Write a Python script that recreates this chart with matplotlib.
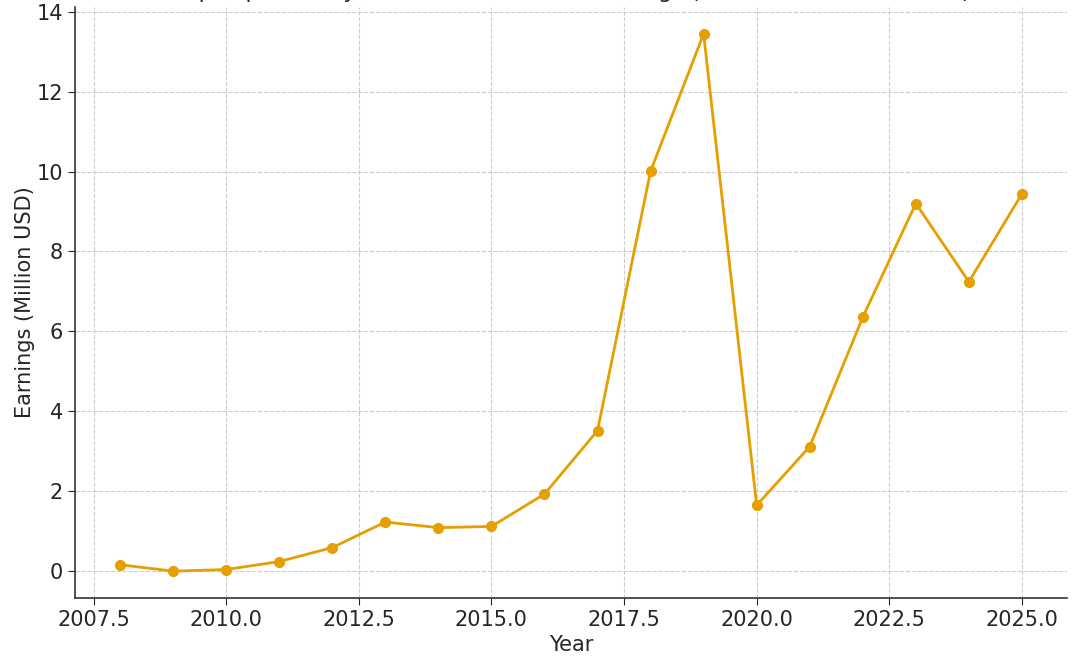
import matplotlib
matplotlib.use("Agg")
import matplotlib.pyplot as plt

# Yearly earnings (million USD)
years = [2008, 2009, 2010, 2011, 2012, 2013, 2014, 2015, 2016,
         2017, 2018, 2019, 2020, 2021, 2022, 2023, 2024, 2025]
earnings = [0.15, -0.01, 0.03, 0.23, 0.58, 1.22, 1.08, 1.11, 1.92,
            3.51, 10.01, 13.45, 1.64, 3.11, 6.35, 9.2, 7.24, 9.44]

title = "Top Esports Player Tournament Prize Earnings (Million USD, 2008-2025)"

plt.rcParams['font.family'] = ['DejaVu Sans']
text_color = '#262626'

fig = plt.figure(figsize=(10.8, 6.67), dpi=100)
ax = fig.add_axes([75 / 1080, 1 - 598 / 667, (1067 - 75) / 1080, (598 - 7) / 667])

ax.plot(years, earnings, color='#E69F00', linewidth=2, marker='o', markersize=7)

# title mostly sits above the visible area, as in the reference
fig.text(0.53, 1.0 + 2.5 / 667, title, ha='center', va='baseline',
         fontsize=16, color=text_color)

ax.set_xlabel('Year', fontsize=15, color=text_color, labelpad=4)
ax.set_ylabel('Earnings (Million USD)', fontsize=15, color=text_color, labelpad=1)
ax.tick_params(labelsize=15, colors=text_color, length=5)

ax.grid(True, linestyle='--', color='#cccccc', linewidth=0.8)
ax.set_axisbelow(True)
for side in ['top', 'right']:
    ax.spines[side].set_visible(False)
for side in ['left', 'bottom']:
    ax.spines[side].set_color('#333333')
    ax.spines[side].set_linewidth(1.2)

fig.savefig('out.png', dpi=100)
